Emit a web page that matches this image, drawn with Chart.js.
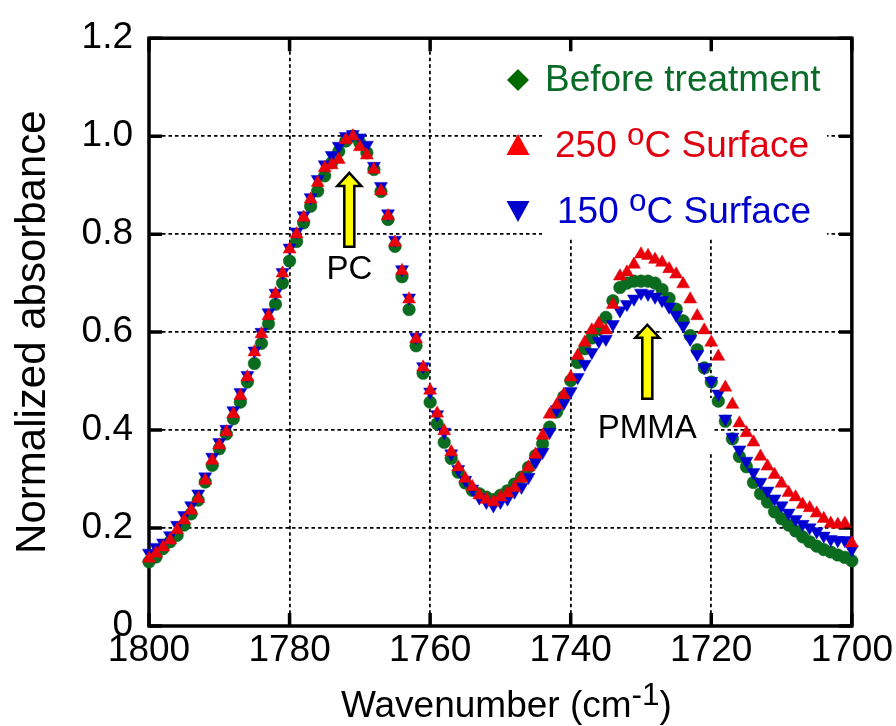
<!DOCTYPE html>
<html>
<head>
<meta charset="utf-8">
<title>Normalized absorbance</title>
<script src="https://cdn.jsdelivr.net/npm/chart.js@4.4.1/dist/chart.umd.min.js"></script>
<style>
  html, body { margin: 0; padding: 0; background: #ffffff; }
  #wrap { width: 896px; height: 726px; }
</style>
</head>
<body>
<div id="wrap"><canvas id="spectrum" width="896" height="726"></canvas></div>
<script>
// Wavenumber grid (cm-1), 1800 -> 1700
const wavenumbers = [
  1800, 1799, 1798, 1797, 1796, 1795, 1794, 1793, 1792, 1791,
  1790, 1789, 1788, 1787, 1786, 1785, 1784, 1783, 1782, 1781,
  1780, 1779, 1778, 1777, 1776, 1775, 1774, 1773, 1772, 1771,
  1770, 1769, 1768, 1767, 1766, 1765, 1764, 1763, 1762, 1761,
  1760, 1759, 1758, 1757, 1756, 1755, 1754, 1753, 1752, 1751,
  1750, 1749, 1748, 1747, 1746, 1745, 1744, 1743, 1742, 1741,
  1740, 1739, 1738, 1737, 1736, 1735, 1734, 1733, 1732, 1731,
  1730, 1729, 1728, 1727, 1726, 1725, 1724, 1723, 1722, 1721,
  1720, 1719, 1718, 1717, 1716, 1715, 1714, 1713, 1712, 1711,
  1710, 1709, 1708, 1707, 1706, 1705, 1704, 1703, 1702, 1701,
  1700
];

// Before treatment (green circles)
const beforeTreatment = [
  0.131, 0.141, 0.158, 0.172, 0.185, 0.206, 0.229, 0.257, 0.294, 0.328,
  0.362, 0.392, 0.423, 0.457, 0.498, 0.536, 0.577, 0.617, 0.657, 0.700,
  0.745, 0.785, 0.823, 0.857, 0.888, 0.919, 0.946, 0.969, 0.990, 1.000,
  0.986, 0.966, 0.932, 0.887, 0.830, 0.775, 0.713, 0.646, 0.572, 0.516,
  0.457, 0.413, 0.375, 0.342, 0.314, 0.292, 0.277, 0.270, 0.263, 0.258,
  0.267, 0.276, 0.290, 0.304, 0.324, 0.348, 0.372, 0.406, 0.437, 0.468,
  0.501, 0.538, 0.566, 0.588, 0.606, 0.630, 0.664, 0.691, 0.700, 0.704,
  0.704, 0.704, 0.700, 0.687, 0.669, 0.647, 0.623, 0.593, 0.564, 0.527,
  0.498, 0.459, 0.418, 0.382, 0.346, 0.325, 0.293, 0.270, 0.253, 0.233,
  0.219, 0.206, 0.194, 0.182, 0.172, 0.163, 0.156, 0.151, 0.145, 0.140,
  0.133
];

// 250 oC surface (red triangles)
const surface250 = [
  0.138, 0.148, 0.161, 0.175, 0.196, 0.216, 0.236, 0.260, 0.297, 0.338,
  0.369, 0.396, 0.433, 0.470, 0.508, 0.559, 0.596, 0.633, 0.678, 0.720,
  0.769, 0.800, 0.834, 0.871, 0.905, 0.935, 0.941, 0.952, 0.992, 1.000,
  0.978, 0.961, 0.932, 0.888, 0.837, 0.783, 0.725, 0.667, 0.586, 0.528,
  0.481, 0.434, 0.398, 0.355, 0.324, 0.301, 0.284, 0.267, 0.258, 0.253,
  0.263, 0.271, 0.282, 0.301, 0.324, 0.350, 0.389, 0.432, 0.451, 0.472,
  0.508, 0.552, 0.579, 0.604, 0.617, 0.604, 0.656, 0.714, 0.722, 0.738,
  0.759, 0.756, 0.748, 0.742, 0.729, 0.718, 0.698, 0.667, 0.633, 0.604,
  0.579, 0.550, 0.487, 0.452, 0.414, 0.394, 0.375, 0.346, 0.326, 0.309,
  0.291, 0.272, 0.263, 0.248, 0.241, 0.230, 0.219, 0.209, 0.207, 0.209,
  0.169
];

// 150 oC surface (blue inverted triangles)
const surface150 = [
  0.149, 0.161, 0.170, 0.185, 0.206, 0.226, 0.246, 0.270, 0.305, 0.345,
  0.375, 0.402, 0.440, 0.477, 0.512, 0.562, 0.600, 0.640, 0.680, 0.722,
  0.772, 0.805, 0.838, 0.875, 0.912, 0.942, 0.961, 0.980, 1.000, 1.004,
  0.997, 0.982, 0.939, 0.898, 0.842, 0.788, 0.728, 0.670, 0.590, 0.530,
  0.478, 0.432, 0.396, 0.352, 0.320, 0.298, 0.280, 0.262, 0.253, 0.246,
  0.253, 0.260, 0.274, 0.284, 0.304, 0.335, 0.355, 0.396, 0.442, 0.455,
  0.479, 0.508, 0.535, 0.559, 0.582, 0.586, 0.616, 0.644, 0.657, 0.668,
  0.680, 0.678, 0.672, 0.665, 0.652, 0.635, 0.613, 0.586, 0.555, 0.528,
  0.500, 0.474, 0.423, 0.386, 0.360, 0.337, 0.314, 0.294, 0.276, 0.260,
  0.246, 0.231, 0.218, 0.208, 0.201, 0.193, 0.184, 0.177, 0.175, 0.175,
  0.156
];

const xTickValues = [1800, 1780, 1760, 1740, 1720, 1700];
const xTickLabels = ['1800', '1780', '1760', '1740', '1720', '1700'];
const yTickValues = [0, 0.2, 0.4, 0.6, 0.8, 1.0, 1.2];
const yTickLabels = ['0', '0.2', '0.4', '0.6', '0.8', '1.0', '1.2'];

const FONT = "'Liberation Sans', Arial, Helvetica, sans-serif";
const GREEN = '#0b6b1f';
const RED = '#e8000a';
const BLUE = '#0000d0';

function toPoints(values) {
    return wavenumbers.map((w, i) => ({ x: w, y: values[i] }));
}

// text made of normal and raised runs, e.g. 250 (o)C Surface
function drawRuns(ctx, x, y, runs, size, color) {
    ctx.fillStyle = color;
    ctx.textBaseline = 'alphabetic';
    ctx.textAlign = 'left';
    let cx = x;
    runs.forEach(r => {
        const s = r.sup ? size * 0.85 : size;
        ctx.font = s + 'px ' + FONT;
        ctx.fillText(r.t, cx, r.sup ? y - size * 0.32 : y);
        cx += ctx.measureText(r.t).width;
    });
    return cx - x;
}

function measureRuns(ctx, runs, size) {
    let w = 0;
    runs.forEach(r => {
        const s = r.sup ? size * 0.85 : size;
        ctx.font = s + 'px ' + FONT;
        w += ctx.measureText(r.t).width;
    });
    return w;
}

function upArrow(ctx, x, yTip, yBase) {
    const headW = 12, headH = 13, shaftW = 5;
    ctx.beginPath();
    ctx.moveTo(x, yTip);
    ctx.lineTo(x + headW, yTip + headH);
    ctx.lineTo(x + shaftW, yTip + headH);
    ctx.lineTo(x + shaftW, yBase);
    ctx.lineTo(x - shaftW, yBase);
    ctx.lineTo(x - shaftW, yTip + headH);
    ctx.lineTo(x - headW, yTip + headH);
    ctx.closePath();
    ctx.fillStyle = '#ffff00';
    ctx.fill();
    ctx.lineWidth = 2.5;
    ctx.strokeStyle = '#000';
    ctx.lineJoin = 'miter';
    ctx.stroke();
}

const framePlugin = {
    id: 'frame',
    beforeDatasetsDraw(chart) {
        const ctx = chart.ctx;
        const { left, right, top, bottom } = chart.chartArea;
        const xs = chart.scales.x, ys = chart.scales.y;
        ctx.save();
        // white boxes behind the legend and the PMMA label
        ctx.fillStyle = '#fff';
        ctx.fillRect(542, 50, 285, 188);
        ctx.fillRect(578, 398, 136, 55);
        // frame and inner ticks
        ctx.strokeStyle = '#000';
        ctx.lineWidth = 3.5;
        ctx.strokeRect(left, top, right - left, bottom - top);
        ctx.beginPath();
        xTickValues.forEach(v => {
            const px = xs.getPixelForValue(v);
            ctx.moveTo(px, bottom); ctx.lineTo(px, bottom - 13);
            ctx.moveTo(px, top); ctx.lineTo(px, top + 13);
        });
        yTickValues.forEach(v => {
            const py = ys.getPixelForValue(v);
            ctx.moveTo(left, py); ctx.lineTo(left + 13, py);
            ctx.moveTo(right, py); ctx.lineTo(right - 13, py);
        });
        ctx.stroke();
        ctx.restore();
    },
    afterDatasetsDraw(chart) {
        const ctx = chart.ctx;
        const xs = chart.scales.x, ys = chart.scales.y;
        const { left, right, top, bottom } = chart.chartArea;
        ctx.save();

        // arrows and labels
        const notes = [
            { text: 'PC', x: 1771.5, tip: 0.925, base: 0.774, ty: 0.709 },
            { text: 'PMMA', x: 1729.1, tip: 0.615, base: 0.464, ty: 0.383 }
        ];
        notes.forEach(n => {
            const px = xs.getPixelForValue(n.x);
            upArrow(ctx, px, ys.getPixelForValue(n.tip), ys.getPixelForValue(n.base));
            ctx.font = '33px ' + FONT;
            ctx.fillStyle = '#000';
            ctx.textAlign = 'center';
            ctx.textBaseline = 'alphabetic';
            ctx.fillText(n.text, px, ys.getPixelForValue(n.ty));
        });

        // legend
        const mx = 518;
        ctx.fillStyle = '#006a00';
        ctx.beginPath();
        ctx.moveTo(mx, 69); ctx.lineTo(mx + 11, 80); ctx.lineTo(mx, 91); ctx.lineTo(mx - 11, 80);
        ctx.closePath(); ctx.fill();
        ctx.fillStyle = '#ff0000';
        ctx.beginPath();
        ctx.moveTo(mx, 134); ctx.lineTo(mx + 11.5, 155); ctx.lineTo(mx - 11.5, 155);
        ctx.closePath(); ctx.fill();
        ctx.fillStyle = '#0000cc';
        ctx.beginPath();
        ctx.moveTo(mx - 11.5, 201); ctx.lineTo(mx + 11.5, 201); ctx.lineTo(mx, 222);
        ctx.closePath(); ctx.fill();

        drawRuns(ctx, 545, 91, [{ t: 'Before treatment' }], 37, '#0a6b28');
        drawRuns(ctx, 555, 157, [{ t: '250 ' }, { t: 'o', sup: true }, { t: 'C Surface' }], 37, '#e00010');
        drawRuns(ctx, 557, 223, [{ t: '150 ' }, { t: 'o', sup: true }, { t: 'C Surface' }], 37, '#0000cc');

        // axis titles
        const xRuns = [{ t: 'Wavenumber (cm' }, { t: '-1', sup: true }, { t: ')' }];
        const xw = measureRuns(ctx, xRuns, 37);
        drawRuns(ctx, (left + right) / 2 - xw / 2 + 6, 717, xRuns, 37, '#000');

        ctx.translate(45, (top + bottom) / 2);
        ctx.rotate(-Math.PI / 2);
        ctx.font = '42px ' + FONT;
        ctx.fillStyle = '#000';
        ctx.textAlign = 'center';
        ctx.textBaseline = 'alphabetic';
        ctx.fillText('Normalized absorbance', 0, 0);
        ctx.restore();
    }
};

const tickFont = { family: FONT, size: 37 };

new Chart(document.getElementById('spectrum'), {
    type: 'scatter',
    data: {
        datasets: [
            {
                label: '250 oC Surface',
                data: toPoints(surface250),
                pointStyle: 'triangle',
                pointRadius: 7.5,
                pointBackgroundColor: RED,
                pointBorderColor: RED,
                pointBorderWidth: 0.5,
                order: 0,
                clip: false
            },
            {
                label: '150 oC Surface',
                data: toPoints(surface150),
                pointStyle: 'triangle',
                rotation: 180,
                pointRadius: 7.5,
                pointBackgroundColor: BLUE,
                pointBorderColor: BLUE,
                pointBorderWidth: 0.5,
                order: 1,
                clip: false
            },
            {
                label: 'Before treatment',
                data: toPoints(beforeTreatment),
                pointStyle: 'circle',
                pointRadius: 6.3,
                pointBackgroundColor: GREEN,
                pointBorderColor: GREEN,
                pointBorderWidth: 0.5,
                order: 2,
                clip: false
            }
        ]
    },
    options: {
        responsive: false,
        animation: false,
        devicePixelRatio: 1,
        events: [],
        layout: { padding: { top: 38, right: 44, left: 0, bottom: 0 } },
        plugins: {
            legend: { display: false },
            tooltip: { enabled: false }
        },
        scales: {
            x: {
                type: 'linear',
                min: 1700,
                max: 1800,
                reverse: true,
                afterBuildTicks: s => { s.ticks = xTickValues.map(v => ({ value: v })); },
                afterFit: s => { s.height = 100; },
                ticks: {
                    font: tickFont,
                    color: '#000',
                    padding: 3,
                    maxRotation: 0,
                    autoSkip: false,
                    callback: (v, i) => xTickLabels[i]
                },
                grid: { color: '#000', lineWidth: 1.8, drawTicks: false },
                border: { display: false, dash: [3.5, 3] }
            },
            y: {
                min: 0,
                max: 1.2,
                afterBuildTicks: s => { s.ticks = yTickValues.map(v => ({ value: v })); },
                afterFit: s => { s.width = 149; },
                ticks: {
                    font: tickFont,
                    color: '#000',
                    padding: 16,
                    autoSkip: false,
                    callback: (v, i) => yTickLabels[i]
                },
                grid: { color: '#000', lineWidth: 1.8, drawTicks: false },
                border: { display: false, dash: [3.5, 3] }
            }
        }
    },
    plugins: [framePlugin]
});
</script>
</body>
</html>
